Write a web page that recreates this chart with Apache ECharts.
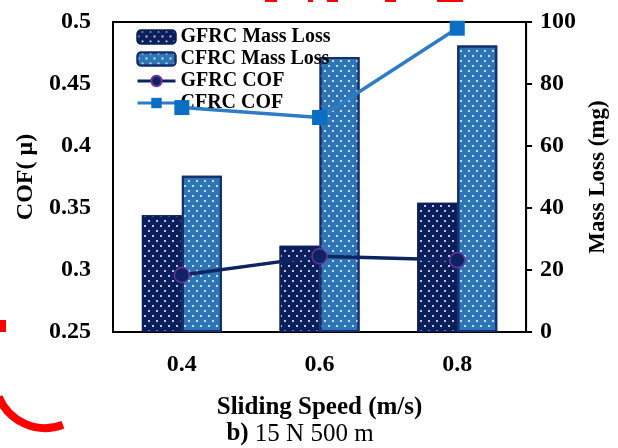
<!DOCTYPE html>
<html>
<head>
<meta charset="utf-8">
<script src="https://cdn.jsdelivr.net/npm/echarts@6/dist/echarts.min.js"></script>
<style>
html,body{margin:0;padding:0;background:#fff;}
#chart{width:618px;height:448px;}
</style>
</head>
<body>
<div id="chart"></div>
<script>
const categories = ['0.4', '0.6', '0.8'];
const gfrcMassLoss = [37.7, 27.8, 41.7];
const cfrcMassLoss = [50.4, 88.7, 92.4];
const gfrcCOF = [0.296, 0.311, 0.308];
const cfrcCOF = [0.431, 0.423, 0.495];
const cofTicks = { min: 0.25, max: 0.5, interval: 0.05 };
const massTicks = { min: 0, max: 100, interval: 20 };

const FONT = 'Liberation Serif';
const chart = echarts.init(document.getElementById('chart'));

function dots(){
  return {
    symbol: 'rect',
    symbolSize: 1,
    color: 'rgba(255,255,255,0.75)',
    dashArrayX: [[2, 6], [0, 4, 2, 2]],
    dashArrayY: [2, 3],
    rotation: 0
  };
}

chart.setOption({
  animation: false,
  backgroundColor: '#fff',
  grid: { left: 113, right: 91, top: 22, bottom: 116, show: true, borderColor: '#000', borderWidth: 2, backgroundColor: 'transparent' },
  legend: {
    orient: 'vertical', left: 131, top: 22, itemWidth: 38, itemHeight: 13, itemGap: 2,
    textStyle: { fontFamily: FONT, fontWeight: 'bold', fontSize: 20, color: '#000' },
    lineStyle: { width: 3 },
    data: ['GFRC Mass Loss', 'CFRC Mass Loss', 'GFRC COF', 'CFRC COF']
  },
  xAxis: {
    type: 'category', data: categories,
    axisLine: { lineStyle: { color: '#000', width: 2 } },
    axisTick: { show: false },
    axisLabel: { fontFamily: FONT, fontWeight: 'bold', fontSize: 24, color: '#000', margin: 21 },
    name: 'Sliding Speed (m/s)', nameLocation: 'middle', nameGap: 63,
    nameTextStyle: { fontFamily: FONT, fontWeight: 'bold', fontSize: 25, color: '#000' }
  },
  yAxis: [
    {
      type: 'value', min: cofTicks.min, max: cofTicks.max, interval: cofTicks.interval,
      axisLine: { show: true, lineStyle: { color: '#000', width: 2 } },
      axisTick: { show: false }, splitLine: { show: false },
      axisLabel: { fontFamily: FONT, fontWeight: 'bold', fontSize: 24, color: '#000', margin: 22 },
      name: 'COF( μ)', nameLocation: 'middle', nameGap: 72,
      nameTextStyle: { fontFamily: FONT, fontWeight: 'bold', fontSize: 24, color: '#000' }
    },
    {
      type: 'value', min: massTicks.min, max: massTicks.max, interval: massTicks.interval, position: 'right',
      axisLine: { show: true, lineStyle: { color: '#000', width: 2 } },
      axisTick: { show: true, inside: false, length: 6, lineStyle: { color: '#000', width: 2 } },
      splitLine: { show: false },
      axisLabel: { fontFamily: FONT, fontWeight: 'bold', fontSize: 24, color: '#000', margin: 14 },
      name: 'Mass Loss (mg)', nameLocation: 'middle', nameGap: 52,
      nameTextStyle: { fontFamily: FONT, fontWeight: 'bold', fontSize: 23, color: '#000' }
    }
  ],
  series: [
    {
      name: 'GFRC Mass Loss', type: 'bar', yAxisIndex: 1, data: gfrcMassLoss,
      barWidth: 40, barGap: '0%',
      itemStyle: { color: '#0b1f5c', borderColor: '#0b1f5c', borderWidth: 1.5, decal: dots() }
    },
    {
      name: 'CFRC Mass Loss', type: 'bar', yAxisIndex: 1, data: cfrcMassLoss,
      barWidth: 40, barGap: '0%',
      itemStyle: { color: '#2e75b6', borderColor: '#142f6e', borderWidth: 2, decal: dots() }
    },
    {
      name: 'GFRC COF', type: 'line', yAxisIndex: 0, data: gfrcCOF, z: 5,
      symbol: 'circle', symbolSize: 15,
      lineStyle: { color: '#0d2462', width: 3.5 },
      itemStyle: { color: '#0d2462', borderColor: '#7030a0', borderWidth: 1.5 }
    },
    {
      name: 'CFRC COF', type: 'line', yAxisIndex: 0, data: cfrcCOF, z: 5,
      symbol: 'rect', symbolSize: 15,
      lineStyle: { color: '#2e7dc4', width: 3.5 },
      itemStyle: { color: '#0a6fc2' }
    }
  ],
  graphic: [
    {
      type: 'text', x: 300, y: 434,
      style: {
        text: '{b|b)} 15 N 500 m', align: 'center', verticalAlign: 'middle',
        font: 'normal 25px "' + FONT + '"', fill: '#000',
        rich: { b: { fontFamily: FONT, fontWeight: 'bold', fontSize: 25, fill: '#000' } }
      }
    },
    { type: 'rect', shape: { x: 265, y: 0, width: 12, height: 2 }, style: { fill: '#ff0000' } },
    { type: 'rect', shape: { x: 308, y: 0, width: 5, height: 2 }, style: { fill: '#ff0000' } },
    { type: 'rect', shape: { x: 327, y: 0, width: 11, height: 2 }, style: { fill: '#ff0000' } },
    { type: 'rect', shape: { x: 385, y: 0, width: 11, height: 2 }, style: { fill: '#ff0000' } },
    { type: 'rect', shape: { x: 437, y: 0, width: 26, height: 2 }, style: { fill: '#ff0000' } },
    { type: 'rect', shape: { x: 0, y: 320, width: 6, height: 12 }, style: { fill: '#ff0000' } },
    {
      type: 'arc', shape: { cx: 45, cy: 378, r: 50, startAngle: 69 * Math.PI / 180, endAngle: 158 * Math.PI / 180, clockwise: true },
      style: { stroke: '#ff0000', lineWidth: 8, fill: 'none' }
    }
  ]
});
</script>
</body>
</html>
